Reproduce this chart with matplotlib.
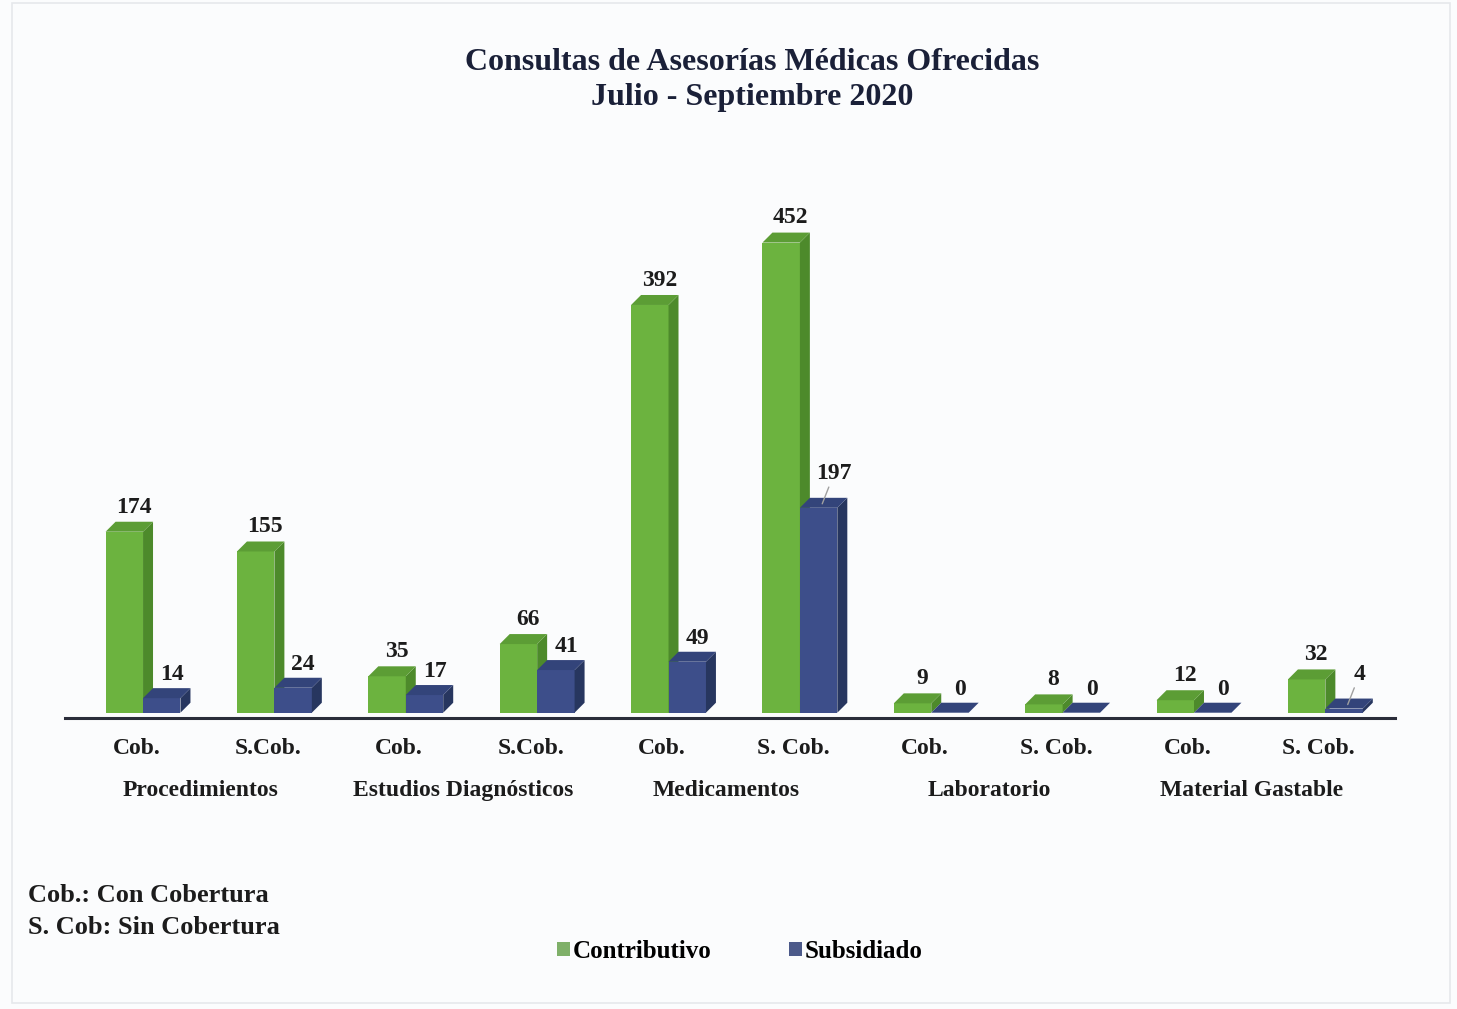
#!/usr/bin/env python

import matplotlib
matplotlib.use('Agg')
import matplotlib.pyplot as plt
from matplotlib.patches import Patch, Rectangle

# ----------------
# DATA
# ----------------

sub_labels = ['Cob.', 'S.Cob.', 'Cob.', 'S.Cob.', 'Cob.', 'S. Cob.',
              'Cob.', 'S. Cob.', 'Cob.', 'S. Cob.']
groups = ['Procedimientos', 'Estudios Diagnósticos', 'Medicamentos',
          'Laboratorio', 'Material Gastable']
contributivo = [174, 155, 35, 66, 392, 452, 9, 8, 12, 32]
subsidiado = [14, 24, 17, 41, 49, 197, 0, 0, 0, 4]
leader_idx = [5, 9]

title_lines = ['Consultas de Asesorías Médicas Ofrecidas', 'Julio - Septiembre 2020']
foot_lines = ['Cob.: Con Cobertura', 'S. Cob: Sin Cobertura']

# ----------------
# STYLE
# ----------------

plt.rcParams['font.family'] = ['Liberation Serif', 'DejaVu Serif']
plt.rcParams['font.weight'] = 'bold'

green = {'front': '#6cb33f', 'side': '#4d8a2b', 'top': '#5c9d35'}
navy = {'front': '#3d4e8a', 'side': '#27365f', 'top': '#33447a'}
W = 0.285      # bar front width (category units)
DX = 0.076     # depth offset x
DY = 9.6       # depth offset y (value units)
TXT = '#1c1c1c'

fig = plt.figure(figsize=(14.57, 10.09), dpi=100)
fig.patch.set_facecolor('#fbfcfd')
fig.patches.append(Rectangle((12 / 1457, 6 / 1009), 1438 / 1457, 1000 / 1009,
                             transform=fig.transFigure, fill=False,
                             edgecolor='#e6e8ec', linewidth=1.2))

ax = fig.add_axes([65 / 1457, (1009 - 712.7) / 1009, 1330 / 1457, 562.7 / 1009])
ax.set_facecolor('none')
ax.set_xlim(-0.594, 9.53)
ax.set_ylim(0, 541)

xs = list(range(len(contributivo)))


def bar3d(x0, h, col):
    ax.bar(x0, h, width=W, align='edge', color=col['front'], linewidth=0, zorder=3)
    x1 = x0 + W
    ax.fill([x1, x1 + DX, x1 + DX, x1], [0, DY, h + DY, h],
            color=col['side'], linewidth=0, zorder=3)
    ax.fill([x0, x0 + DX, x1 + DX, x1], [h, h + DY, h + DY, h],
            color=col['top'], linewidth=0, zorder=3)


for i in xs:
    bar3d(xs[i] - W, contributivo[i], green)
    bar3d(xs[i], subsidiado[i], navy)

    ax.annotate(str(contributivo[i]), (xs[i] - 0.07, contributivo[i] + DY),
                xytext=(0, 3), textcoords='offset points', ha='center',
                va='bottom', fontsize=17, color=TXT, zorder=5)
    if i in leader_idx:
        ax.annotate(str(subsidiado[i]), (xs[i] + 0.17, subsidiado[i] + DY * 0.4),
                    xytext=(xs[i] + 0.26, subsidiado[i] + DY + 13),
                    ha='center', va='bottom', fontsize=17, color=TXT,
                    arrowprops=dict(arrowstyle='-', color='#a0a0a0', lw=1,
                                    shrinkA=0, shrinkB=0), zorder=5)
    else:
        ax.annotate(str(subsidiado[i]), (xs[i] + 0.22, subsidiado[i] + DY),
                    xytext=(0, 2), textcoords='offset points', ha='center',
                    va='bottom', fontsize=17, color=TXT, zorder=5)

# category labels
xt = ax.get_xaxis_transform()
for i in xs:
    ax.text(xs[i] - 0.05, -0.0645, sub_labels[i], transform=xt, ha='center',
            va='center', fontsize=17, color=TXT)
for g, name in enumerate(groups):
    ax.text((xs[2 * g] + xs[2 * g + 1]) / 2 - 0.06, -0.139, name, transform=xt,
            ha='center', va='center', fontsize=17, color=TXT)

for s in ['top', 'right', 'left']:
    ax.spines[s].set_visible(False)
ax.spines['bottom'].set_position(('outward', 3.5))
ax.spines['bottom'].set_color('#2a2d3a')
ax.spines['bottom'].set_linewidth(2.2)
ax.set_xticks([])
ax.set_yticks([])

for line, ypx in zip(title_lines, [62, 97]):
    fig.text(752 / 1457, 1 - ypx / 1009, line, ha='center', va='center',
             fontsize=23, color='#1a2038')
for line, ypx in zip(foot_lines, [896, 927]):
    fig.text(28 / 1457, 1 - ypx / 1009, line, ha='left', va='center',
             fontsize=19, color=TXT)

handles = [Patch(facecolor='#7fb069', label='Contributivo'),
           Patch(facecolor='#4c5a8a', label='Subsidiado')]
leg = fig.legend(handles=handles, loc='center', ncol=2, frameon=False,
                 bbox_to_anchor=(740 / 1457, 1 - 951 / 1009), fontsize=18,
                 handlelength=0.5, handleheight=0.5, handletextpad=0.12,
                 columnspacing=3.1)

fig.savefig('out.png', dpi=100, facecolor=fig.get_facecolor())
plt.close(fig)
